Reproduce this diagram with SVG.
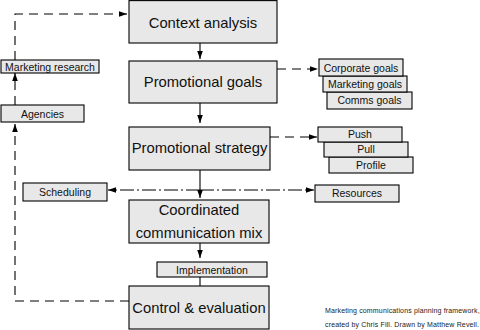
<svg xmlns="http://www.w3.org/2000/svg" width="480" height="330" viewBox="0 0 480 330">
<defs>
<marker id="ah" viewBox="0 0 8 8" refX="8" refY="4" markerWidth="8" markerHeight="8" markerUnits="userSpaceOnUse" orient="auto">
<path d="M0,1.2 L8,4 L0,6.8 Z" fill="#000"/>
</marker>
</defs>
<style>
.box{fill:#e8e8e8;stroke:#000;stroke-width:1.1}
.big{font-family:"Liberation Sans",Arial,sans-serif;font-size:14.8px;fill:#111;text-anchor:middle}
.sm{font-family:"Liberation Sans",Arial,sans-serif;font-size:10.5px;fill:#111;text-anchor:middle}
.foot{font-family:"Liberation Sans",Arial,sans-serif;font-size:7px;fill:#222;letter-spacing:0.15px}
.ln{fill:none;stroke:#000;stroke-width:1.1}
.dash{fill:none;stroke:#000;stroke-width:1.1;stroke-dasharray:9 6}
.dd{fill:none;stroke:#000;stroke-width:1.1;stroke-dasharray:14 3 2 3}
</style>
<rect width="480" height="330" fill="#fff"/>
<g id="connectors">
<line class="ln" x1="200" y1="43" x2="200" y2="59" marker-end="url(#ah)"/>
<line class="ln" x1="200" y1="103" x2="200" y2="123" marker-end="url(#ah)"/>
<line class="ln" x1="200" y1="170" x2="200" y2="198" marker-end="url(#ah)"/>
<line class="ln" x1="200" y1="243" x2="200" y2="258" marker-end="url(#ah)"/>
<line class="ln" x1="200" y1="277" x2="200" y2="286"/>
<polyline class="dash" points="15,60 15,14 127,14" marker-end="url(#ah)"/>
<line class="dash" x1="15" y1="105" x2="15" y2="73" marker-end="url(#ah)"/>
<polyline class="dash" points="129,301 15,301 15,124" marker-end="url(#ah)"/>
<line class="dash" x1="277" y1="69" x2="318" y2="69" marker-end="url(#ah)"/>
<line class="dash" x1="270" y1="137" x2="317" y2="137" marker-end="url(#ah)"/>
<line class="dd" x1="200" y1="190" x2="108" y2="190" marker-end="url(#ah)"/>
<line class="dd" x1="200" y1="190" x2="314" y2="190" marker-end="url(#ah)"/>
</g>
<g id="context-analysis"><rect class="box" x="129" y="0.6" width="148" height="42.4"/><text class="big" x="203" y="27.5">Context analysis</text></g>
<g id="promotional-goals"><rect class="box" x="129" y="61" width="148" height="42"/><text class="big" x="203" y="87">Promotional goals</text></g>
<g id="promotional-strategy"><rect class="box" x="129" y="127" width="141" height="43"/><text class="big" x="199.5" y="153">Promotional strategy</text></g>
<g id="coordinated-mix"><rect class="box" x="129" y="200" width="140" height="43"/><text class="big" x="199" y="215">Coordinated</text><text class="big" x="199" y="238">communication mix</text></g>
<g id="implementation"><rect class="box" x="157" y="262" width="110" height="15"/><text class="sm" x="212" y="273.5">Implementation</text></g>
<g id="control-evaluation"><rect class="box" x="129" y="286" width="140" height="43"/><text class="big" x="199" y="313">Control &amp; evaluation</text></g>
<g id="marketing-research"><rect class="box" x="1" y="60" width="98" height="13"/><text class="sm" x="50" y="70.5">Marketing research</text></g>
<g id="agencies"><rect class="box" x="1" y="105" width="83" height="17"/><text class="sm" x="42.5" y="117.5">Agencies</text></g>
<g id="scheduling"><rect class="box" x="23" y="183" width="84" height="18"/><text class="sm" x="65" y="195.5">Scheduling</text></g>
<g id="resources"><rect class="box" x="315" y="185" width="84" height="17"/><text class="sm" x="357" y="197">Resources</text></g>
<g id="comms-goals"><rect class="box" x="327" y="92" width="85" height="17"/><text class="sm" x="369.5" y="104">Comms goals</text></g>
<g id="marketing-goals"><rect class="box" x="323" y="76" width="84" height="16"/><text class="sm" x="365" y="88">Marketing goals</text></g>
<g id="corporate-goals"><rect class="box" x="319" y="59" width="84" height="17"/><text class="sm" x="361" y="71.5">Corporate goals</text></g>
<g id="profile"><rect class="box" x="329" y="157" width="84" height="16"/><text class="sm" x="371" y="168.5">Profile</text></g>
<g id="pull"><rect class="box" x="324" y="142" width="84" height="15"/><text class="sm" x="366" y="153">Pull</text></g>
<g id="push"><rect class="box" x="318" y="127" width="84" height="15"/><text class="sm" x="360" y="138">Push</text></g>
<text class="foot" x="325" y="313">Marketing communications planning framework,</text>
<text class="foot" x="325" y="327">created by Chris Fill. Drawn by Matthew Revell.</text>
</svg>
